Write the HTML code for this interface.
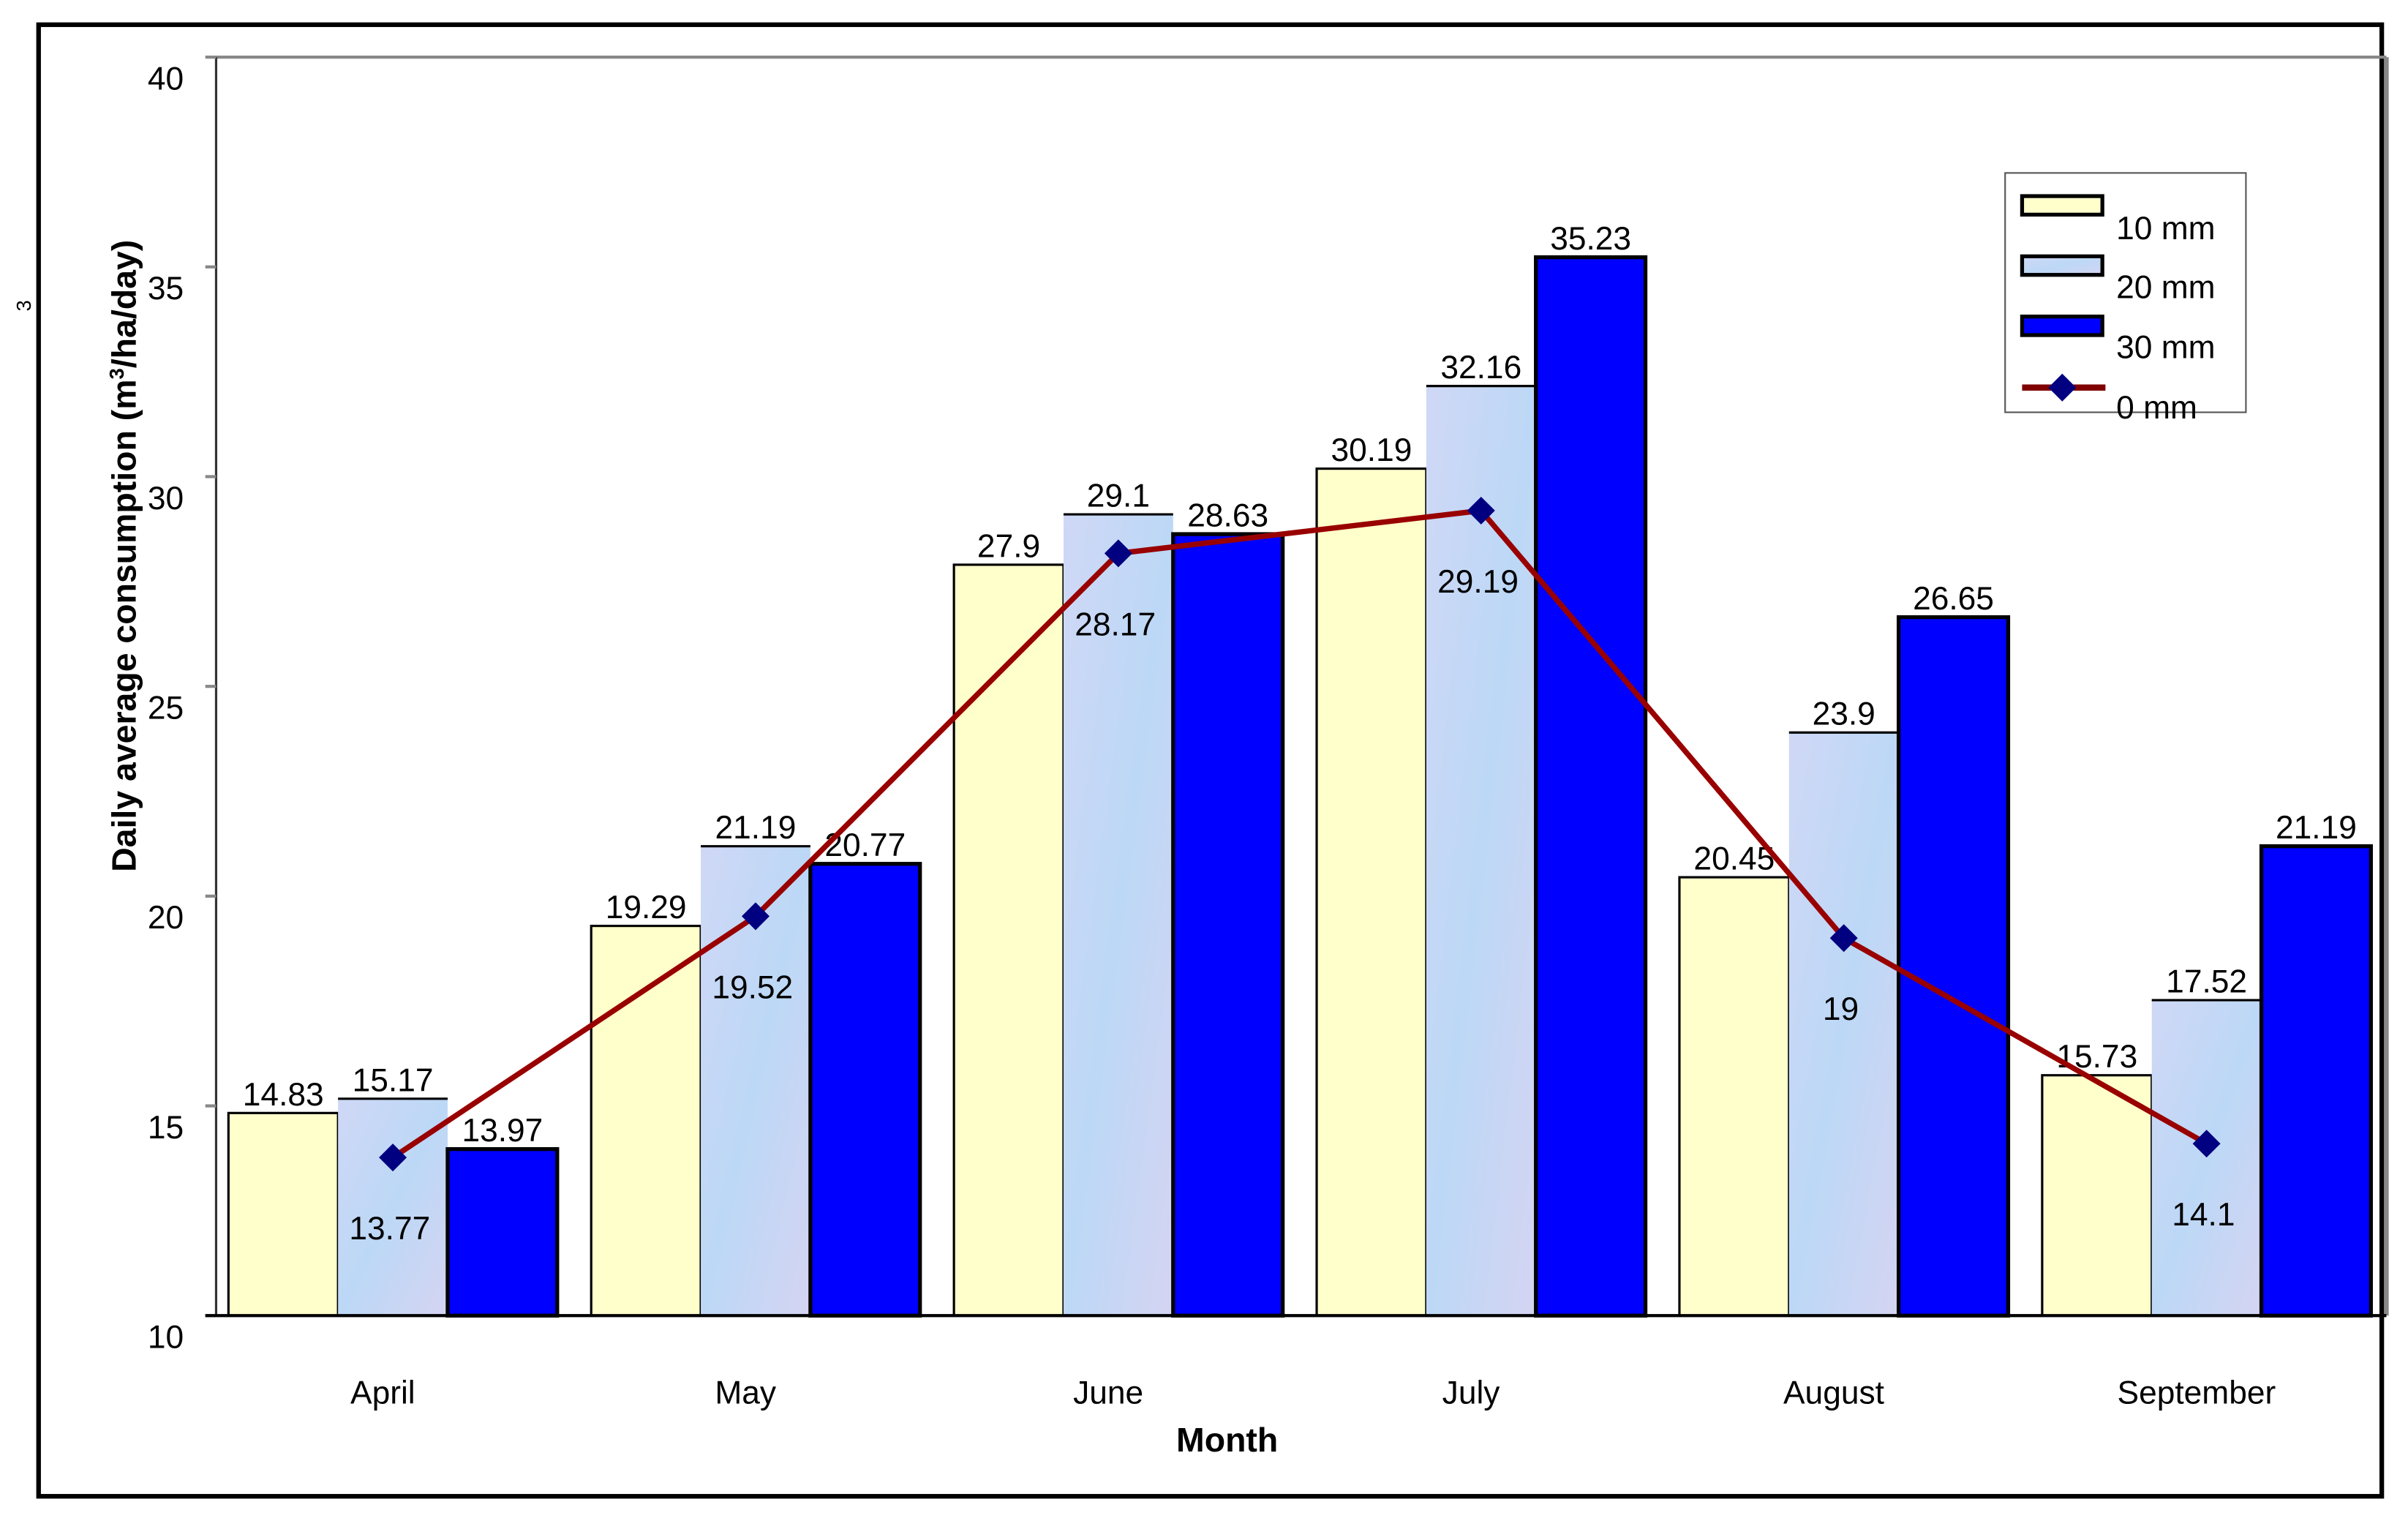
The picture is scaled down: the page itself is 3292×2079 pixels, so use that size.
<!DOCTYPE html>
<html><head><meta charset="utf-8"><style>
html,body{margin:0;padding:0;background:#fff;}
svg{display:block;font-family:"Liberation Sans",Arial,sans-serif;}
</style></head><body>
<svg id="chart" width="3292" height="2079" viewBox="0 0 1560 985" preserveAspectRatio="none" xmlns="http://www.w3.org/2000/svg">
<defs>
<linearGradient id="blueTex" x1="0" y1="0" x2="1" y2="1">
<stop offset="0" stop-color="#cfd8f6"/><stop offset="0.5" stop-color="#bcd8f6"/><stop offset="1" stop-color="#d4d4f2"/>
</linearGradient>
</defs>
<rect x="25" y="16" width="1518" height="953" fill="#fff" stroke="#000" stroke-width="3"/>
<text x="20" y="198" font-size="13" transform="rotate(-90 20 198)" text-anchor="middle">3</text>
<line x1="140" y1="37" x2="1546" y2="37" stroke="#888" stroke-width="2"/>
<line x1="1546" y1="37" x2="1546" y2="852" stroke="#888" stroke-width="3"/>
<line x1="140" y1="37" x2="140" y2="852" stroke="#333" stroke-width="1.5"/>
<g id="yticks"></g>
<g id="bars"></g>
<line x1="133" y1="852" x2="1546" y2="852" stroke="#000" stroke-width="2"/>
<g id="line"></g>
<g id="xlabels"></g>
<text x="795" y="940" font-size="22" font-weight="bold" text-anchor="middle">Month</text>
<text x="88" y="360" font-size="22" font-weight="bold" text-anchor="middle" transform="rotate(-90 88 360)">Daily average consumption (m<tspan font-size="13" dy="-8">3</tspan><tspan dy="8">/ha/day)</tspan></text>
<g>
<rect x="1299" y="112" width="156" height="155" fill="#fff" stroke="#555" stroke-width="1"/>
<rect x="1310" y="127" width="52" height="12" fill="#ffffcc" stroke="#000" stroke-width="2.5"/>
<text x="1371" y="155" font-size="21">10 mm</text>
<rect x="1310" y="166" width="52" height="12" fill="url(#blueTex)" stroke="#000" stroke-width="2.5"/>
<text x="1371" y="193" font-size="21">20 mm</text>
<rect x="1310" y="205" width="52" height="12" fill="#0000ff" stroke="#000" stroke-width="2.5"/>
<text x="1371" y="232" font-size="21">30 mm</text>
<line x1="1310" y1="251" x2="1364" y2="251" stroke="#800000" stroke-width="4"/>
<polygon points="1336,242 1345,251 1336,260 1327,251" fill="#000080"/>
<text x="1371" y="271" font-size="21">0 mm</text>
</g>
</svg>
<script>
const months = ["April","May","June","July","August","September"];
const s10 = [14.83,19.29,27.9,30.19,20.45,15.73];
const s20 = [15.17,21.19,29.1,32.16,23.9,17.52];
const s30 = [13.97,20.77,28.63,35.23,26.65,21.19];
const s0 = [13.77,19.52,28.17,29.19,19,14.1];
const s20Labels = ["15.17","21.19","29.1","32.16","23.9","17.52"];
const s10Labels = ["14.83","19.29","27.9","30.19","20.45","15.73"];
const s30Labels = ["13.97","20.77","28.63","35.23","26.65","21.19"];
const s0Labels = ["13.77","19.52","28.17","29.19","19","14.1"];
const yTicks = [10,15,20,25,30,35,40];

const NS = "http://www.w3.org/2000/svg";
const y = v => 852 - (v - 10) * (815 / 30);
const gx = i => 148 + i * 235;
const bw = 71;
function mk(tag, attrs, parent){const e=document.createElementNS(NS,tag);for(const k in attrs)e.setAttribute(k,attrs[k]);parent.appendChild(e);return e;}

const yt = document.getElementById("yticks");
yTicks.forEach(t=>{
  const l = mk("line",{x1:133,x2:140,y1:y(t),y2:y(t),stroke:"#888","stroke-width":2},yt);
  
  
  const tx = mk("text",{x:119,y:y(t)+21,"font-size":21,"text-anchor":"end"},yt);
  
  
  tx.textContent = t;
});

const bars = document.getElementById("bars");
const series = [[s10,"#ffffcc",s10Labels,"10mm"],[s20,"url(#blueTex)",s20Labels,"20mm"],[s30,"#0000ff",s30Labels,"30mm"]];
months.forEach((m,i)=>{
  series.forEach((s,j)=>{
    const x = gx(i) + j*bw;
    const r = mk("rect",{x:x,y:y(s[0][i]),width:bw,height:852-y(s[0][i]),fill:s[1],stroke:j===1?"none":"#000","stroke-width":j===2?2.5:1.5},bars);
    
    
    if(j===1){mk("line",{x1:x,x2:x+bw,y1:y(s[0][i]),y2:y(s[0][i]),stroke:"#000","stroke-width":1.5},bars);}
    const t = mk("text",{x:x+bw/2,y:y(s[0][i])-5,"font-size":21,"text-anchor":"middle"},bars);
    
    
    t.textContent = s[2][i];
  });
  const ml = mk("text",{x:gx(i)+100,y:909,"font-size":21,"text-anchor":"middle"},document.getElementById("xlabels"));
  
  
  ml.textContent = m;
});

const lg = document.getElementById("line");
const pts = s0.map((v,i)=>[gx(i)+bw*1.5, y(v)]);
const pl = mk("polyline",{points:pts.map(p=>p.join(",")).join(" "),fill:"none",stroke:"#990000","stroke-width":3.5},lg);


pts.forEach((p,i)=>{
  const d = mk("polygon",{points:`${p[0]},${p[1]-9} ${p[0]+9},${p[1]} ${p[0]},${p[1]+9} ${p[0]-9},${p[1]}`,fill:"#000080"},lg);
  
  
  const t = mk("text",{x:p[0]-2,y:p[1]+53,"font-size":21,"text-anchor":"middle"},lg);
  
  
  t.textContent = s0Labels[i];
});
</script>
</body></html>
